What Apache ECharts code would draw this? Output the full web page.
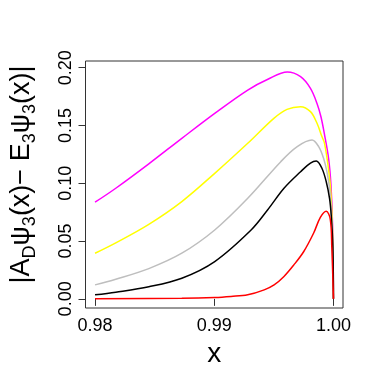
<!DOCTYPE html>
<html><head><meta charset="utf-8">
<script src="https://cdn.jsdelivr.net/npm/echarts@6/dist/echarts.min.js"></script>
<style>html,body{margin:0;padding:0;background:#fff}#c{width:382px;height:382px}</style>
</head><body><div id="c"></div>
<script>
const xTicks = [0.98, 0.99, 1.00];
const yTicks = [0.00, 0.05, 0.10, 0.15, 0.20];
const magenta = [[0.98,0.0836],[0.98174,0.0957],[0.98451,0.1168],[0.98728,0.1389],[0.99004,0.1605],[0.99281,0.1807],[0.9945,0.190],[0.99613,0.1962],[0.99724,0.1922],[0.99807,0.1821],[0.99862,0.1691],[0.99895,0.1576],[0.99923,0.1432],[0.99959,0.1216],[0.99979,0.0985],[0.99992,0.065],[1.0,0]];
const yellow = [[0.98,0.0395],[0.98174,0.0485],[0.98451,0.0645],[0.98728,0.0842],[0.99004,0.1086],[0.99281,0.1346],[0.9950,0.1562],[0.9961,0.164],[0.99724,0.1663],[0.99807,0.162],[0.99862,0.1519],[0.99903,0.1404],[0.99925,0.1346],[0.99959,0.112],[0.99979,0.091],[0.99992,0.06],[1.0,0]];
const grey = [[0.98,0.0121],[0.98174,0.0170],[0.98451,0.0262],[0.98728,0.0395],[0.99004,0.0596],[0.99281,0.087],[0.99558,0.1187],[0.99696,0.1317],[0.9982,0.1374],[0.99876,0.1317],[0.99917,0.1216],[0.99945,0.110],[0.99967,0.0957],[0.99983,0.075],[0.99994,0.05],[1.0,0]];
const black = [[0.98,0.0035],[0.98174,0.0058],[0.98451,0.0105],[0.98728,0.0179],[0.99004,0.0323],[0.99309,0.0596],[0.99447,0.0769],[0.99585,0.0957],[0.99724,0.110],[0.99807,0.1175],[0.99856,0.1193],[0.99903,0.113],[0.99939,0.1015],[0.99967,0.087],[0.99981,0.0726],[0.99995,0.045],[1.0,0]];
const red = [[0.98,0.0],[0.98728,0.0005],[0.99004,0.0012],[0.99141,0.0021],[0.99281,0.0035],[0.99419,0.0078],[0.99502,0.0121],[0.99585,0.0194],[0.99668,0.0294],[0.99751,0.041],[0.99834,0.057],[0.9989,0.0705],[0.99939,0.0758],[0.99973,0.069],[0.99986,0.045],[1.0,0]];

const font = 'Liberation Sans, Arial, Helvetica, sans-serif';
const chart = echarts.init(document.getElementById('c'), null, {renderer:'canvas'});
function mk(data,color){return {type:'line',data:data,showSymbol:false,smooth:0.35,lineStyle:{color:color,width:1.5},itemStyle:{color:color},animation:false,z:2};}
chart.setOption({
  animation:false,
  grid:{left:83,right:39,top:61,bottom:74,show:true,borderColor:'#333',borderWidth:1,backgroundColor:'transparent'},
  xAxis:{type:'value',min:0.9792,max:1.0008,
    axisLine:{show:false},splitLine:{show:false},
    axisTick:{show:true,length:7,customValues:xTicks,lineStyle:{color:'#333'}},
    axisLabel:{customValues:xTicks,margin:9,fontSize:18,color:'#000',fontFamily:font,formatter:v=>v.toFixed(2)},
    name:'x',nameLocation:'middle',nameGap:25,nameTextStyle:{fontSize:28,color:'#000',fontFamily:font}},
  yAxis:{type:'value',min:-0.0079,max:0.2058,
    axisLine:{show:false},splitLine:{show:false},
    axisTick:{show:true,length:7,customValues:yTicks,lineStyle:{color:'#333'}},
    axisLabel:{customValues:yTicks,rotate:90,margin:10,fontSize:18,color:'#000',fontFamily:font,formatter:v=>v.toFixed(2)},
    name:'{a||A}{s|D}{a|ψ}{s|3}{a|(x)− E}{s|3}{a|ψ}{s|3}{a|(x)|}',
    nameLocation:'middle',nameGap:48,nameRotate:90,
    nameTextStyle:{fontFamily:font,color:'#000',padding:[0,0,0,20],rich:{
      a:{fontSize:27,fontFamily:font,color:'#000',lineHeight:32},
      s:{fontSize:18,fontFamily:font,color:'#000',verticalAlign:'bottom',lineHeight:18,padding:[0,0,-2,0]}}}},
  series:[mk(magenta,'#FF00FF'),mk(yellow,'#FFFF00'),mk(grey,'#BEBEBE'),mk(black,'#000000'),mk(red,'#FF0000')]
});
</script></body></html>
